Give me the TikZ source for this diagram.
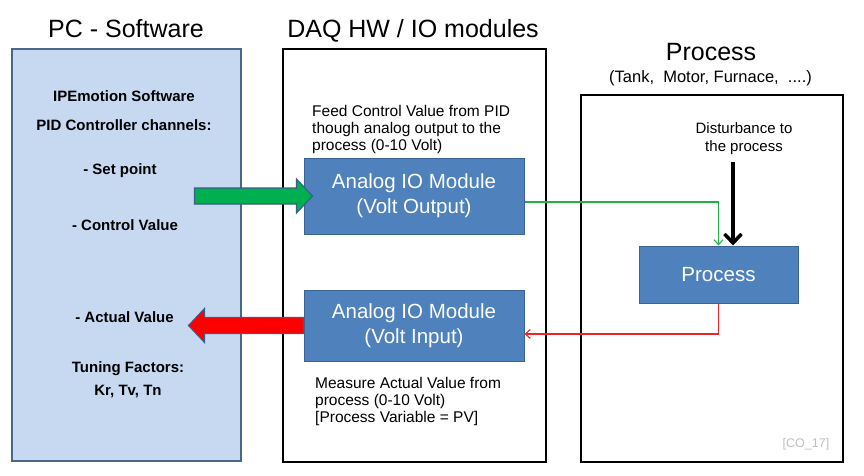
\documentclass[tikz,border=0pt]{standalone}
\usepackage{fontspec}
\setmainfont{Liberation Sans}
\usetikzlibrary{arrows.meta,calc}

\definecolor{pcfill}{HTML}{C6D9F1}
\definecolor{pcline}{HTML}{4A6688}
\definecolor{modfill}{HTML}{4F81BD}
\definecolor{modline}{HTML}{3A6494}
\definecolor{arrowgreen}{HTML}{00B050}
\definecolor{arrowred}{HTML}{FF0000}
\definecolor{arrowline}{HTML}{385D8A}
\definecolor{sigreen}{HTML}{22B04A}
\definecolor{sigred}{HTML}{E8262A}

\newcommand*{\shaft}{8pt}
\newcommand*{\headw}{17pt}
\newcommand*{\headl}{16pt}

\begin{document}
\begin{tikzpicture}
[
	x=1pt, y=-1pt,
	panel/.style 2 args={draw,line width=1.5pt,inner sep=0pt,minimum width=#1,minimum height=#2},
	title/.style={font=\fontsize{25}{30}\selectfont,anchor=base},
	subtitle/.style={font=\fontsize{16.5}{20}\selectfont,anchor=base},
	pctext/.style={font=\bfseries\fontsize{15}{23}\selectfont,anchor=base,align=center},
	note/.style={font=\fontsize{15.5}{17}\selectfont,anchor=base west,align=left,inner sep=0pt},
	module/.style={draw=modline,fill=modfill,line width=1pt,text=white,font=\fontsize{20.5}{25}\selectfont,align=center,minimum width=220pt},
	signal/.style={line width=1.1pt,-{Straight Barb[length=5pt,width=9pt]}},
	disturb/.style={line width=3.5pt,-{Straight Barb[length=9pt,width=17pt]}},
	fatarrow/.style={draw=arrowline,line width=1.1pt,line join=miter}
]

	\useasboundingbox (0,0) rectangle (864,475);

	% panels
	\node[panel={229pt}{412pt},draw=pcline,fill=pcfill] (pc) at (126.5,255) {};
	\node[panel={263pt}{413pt}] (daq) at (414.5,255.5) {};
	\node[panel={262pt}{367pt}] (zone) at (712,278.5) {};

	% titles
	\node[title] (pctitle) at (126,37.5) {PC - Software};
	\node[title] (daqtitle) at (413,37.5) {DAQ HW / IO modules};
	\node[title] (proctitle) at (711,60.5) {Process};
	\node[subtitle] (procsub) at (710.5,82.7) {(Tank,\ \ Motor, Furnace,\ \ ....)};

	% software side (multi-line nodes sit on their last line)
	\node[pctext] (ipe) at (124,101.7) {IPEmotion Software};
	\node[pctext] (pidch) at (124,130.7) {PID Controller channels:};
	\node[pctext] (setpt) at (120,174.5) {- Set point};
	\node[pctext] (ctrlval) at (125,230.7) {- Control Value};
	\node[pctext] (actval) at (124.5,322.7) {- Actual Value};
	\node[pctext] (tuning) at (128,395) {Tuning Factors:\\Kr, Tv, Tn};

	% io modules
	\node[note] (feed) at (312,150) {Feed Control Value from PID\\though analog output to the\\process (0-10 Volt)};
	\node[module,minimum height=76pt] (aout) at (414,196) {Analog IO Module\\(Volt Output)};
	\node[module,minimum height=71pt] (ain) at (414,325.5) {Analog IO Module\\(Volt Input)};
	\node[note] (meas) at (315,422) {Measure Actual Value from\\process (0-10 Volt)\\{[}Process Variable = PV{]}};

	% process
	\node[anchor=base,align=center,font=\fontsize{15}{18.5}\selectfont] (dist) at (744,151.8) {Disturbance to\\the process};
	\node[module,minimum width=159pt,minimum height=57pt] (proc) at (718.5,274.5) {Process};
	\node[font=\fontsize{12.5}{15}\selectfont,text=black!25] (tag) at (806,444) {[CO\_17]};

	% signals
	\draw[signal,sigreen] ($(aout.east)+(0,6)$) -| (proc.north);
	\draw[signal,sigred] (proc.south) |- ($(ain.east)+(0,8.5)$);
	\coordinate (dtop) at (733,162);
	\draw[disturb] (dtop) -- (dtop |- proc.north);

	% fat arrows
	\coordinate (gtail) at ($(aout.west)+(-109,0)$);
	\coordinate (gtip) at ($(aout.west)+(9,0)$);
	\filldraw[fatarrow,fill=arrowgreen] let \p1=(gtail), \p2=(gtip) in
		(\x1,{\y1+\shaft}) -- ({\x2-\headl},{\y1+\shaft}) -- ({\x2-\headl},{\y1+\headw}) -- (\x2,\y1)
		-- ({\x2-\headl},{\y1-\headw}) -- ({\x2-\headl},{\y1-\shaft}) -- (\x1,{\y1-\shaft}) -- cycle;

	\coordinate (rtip) at ($(ain.west)+(-115,0)$);
	\filldraw[fatarrow,fill=arrowred] let \p1=(ain.west), \p2=(rtip) in
		(\x1,{\y1+\shaft}) -- ({\x2+\headl},{\y1+\shaft}) -- ({\x2+\headl},{\y1+\headw}) -- (\x2,\y1)
		-- ({\x2+\headl},{\y1-\headw}) -- ({\x2+\headl},{\y1-\shaft}) -- (\x1,{\y1-\shaft}) -- cycle;

\end{tikzpicture}
\end{document}
